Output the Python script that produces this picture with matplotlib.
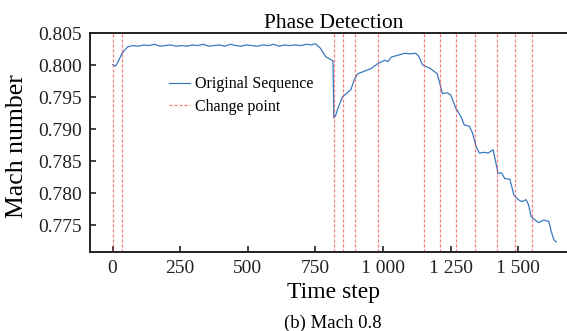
import matplotlib
matplotlib.use("Agg")
import matplotlib.pyplot as plt
from matplotlib.ticker import FuncFormatter, MultipleLocator

plt.rcParams["font.family"] = ["Liberation Serif", "DejaVu Serif"]

# Mach number sequence (time step, value)
steps = [0, 11, 23, 34, 41, 56, 75, 95, 115, 135, 155, 175, 195, 215, 235,
         255, 275, 295, 315, 335, 355, 375, 395, 415, 435, 455, 475, 495, 515,
         535, 555, 575, 595, 615, 635, 655, 675, 695, 715, 735, 750, 768, 787,
         806, 815, 818, 824, 831, 840, 850, 862, 881, 893, 906, 925, 943, 956,
         981, 1006, 1018, 1031, 1056, 1081, 1100, 1120, 1131, 1146, 1175, 1200,
         1210, 1219, 1238, 1250, 1269, 1288, 1300, 1319, 1331, 1344, 1356, 1372,
         1388, 1407, 1419, 1425, 1438, 1450, 1469, 1484, 1500, 1513, 1529, 1538,
         1548, 1563, 1575, 1594, 1613, 1622, 1632, 1640]
mach = [0.8001, 0.7999, 0.8008, 0.8018, 0.8022, 0.8029, 0.8031, 0.8030, 0.8032,
        0.8031, 0.8033, 0.8030, 0.8031, 0.8032, 0.8030, 0.8031, 0.8030, 0.8032,
        0.8031, 0.8033, 0.8030, 0.8031, 0.8032, 0.8030, 0.8033, 0.8031, 0.8030,
        0.8032, 0.8031, 0.8030, 0.8032, 0.8031, 0.8033, 0.8030, 0.8032, 0.8031,
        0.8032, 0.8031, 0.8033, 0.8032, 0.8034, 0.8027, 0.8014, 0.8009, 0.8007,
        0.7918, 0.7921, 0.7930, 0.7940, 0.7951, 0.7955, 0.7962, 0.7977, 0.7987,
        0.7990, 0.7993, 0.7995, 0.8003, 0.8008, 0.8006, 0.8013, 0.8016, 0.8019,
        0.8018, 0.8019, 0.8015, 0.8001, 0.7995, 0.7987, 0.7972, 0.7956, 0.7957,
        0.7954, 0.7933, 0.7920, 0.7907, 0.7905, 0.7894, 0.7873, 0.7863, 0.7864,
        0.7863, 0.7868, 0.7844, 0.7831, 0.7832, 0.7823, 0.7822, 0.7797, 0.7790,
        0.7787, 0.7790, 0.7782, 0.7763, 0.7758, 0.7754, 0.7758, 0.7756, 0.7740,
        0.7727, 0.7724]

change_points = [0, 36, 817, 851, 895, 981, 1150, 1211, 1271, 1341, 1421,
                 1488, 1550]

fig = plt.figure(figsize=(5.67, 3.31), dpi=100)
ax = fig.add_axes([0.159, 0.239, 0.86, 0.66])

ax.plot(steps, mach, color="#3b78bf", lw=0.9, label="Original Sequence")
for i, cp in enumerate(change_points):
    ax.axvline(cp, color="#f04848", lw=0.9, ls=(0, (2.5, 1.5)), alpha=0.7,
               label="Change point" if i == 0 else None)

ax.set_xlim(-83, 1720)
ax.set_ylim(0.77083, 0.805)
ax.xaxis.set_major_locator(MultipleLocator(250))
ax.yaxis.set_major_locator(MultipleLocator(0.005))
ax.xaxis.set_major_formatter(FuncFormatter(lambda v, p: f"{v:,.0f}".replace(",", " ")))
ax.yaxis.set_major_formatter(FuncFormatter(lambda v, p: f"{v:.3f}"))

for s in ["left", "bottom", "top"]:
    ax.spines[s].set_linewidth(1.4)
    ax.spines[s].set_color("#222222")
ax.spines["right"].set_visible(False)
ax.tick_params(direction="in", length=4, width=1.2, labelsize=14, colors="#222222",
               pad=6)

ax.set_title("Phase Detection", fontsize=15.5, pad=4)
ax.set_xlabel("Time step", fontsize=17)
ax.xaxis.set_label_coords(0.5, -0.14)
ax.set_ylabel("Mach number", fontsize=18.5)
ax.yaxis.set_label_coords(-0.127, 0.486)
fig.text(0.587, 0.008, "(b) Mach 0.8", fontsize=13.5, ha="center", va="baseline")

ax.legend(loc="upper left", bbox_to_anchor=(0.1325, 0.869), frameon=False,
          fontsize=11.5, handlelength=1.3, handletextpad=0.35, labelspacing=0.4)

fig.savefig("out.png", dpi=100)
